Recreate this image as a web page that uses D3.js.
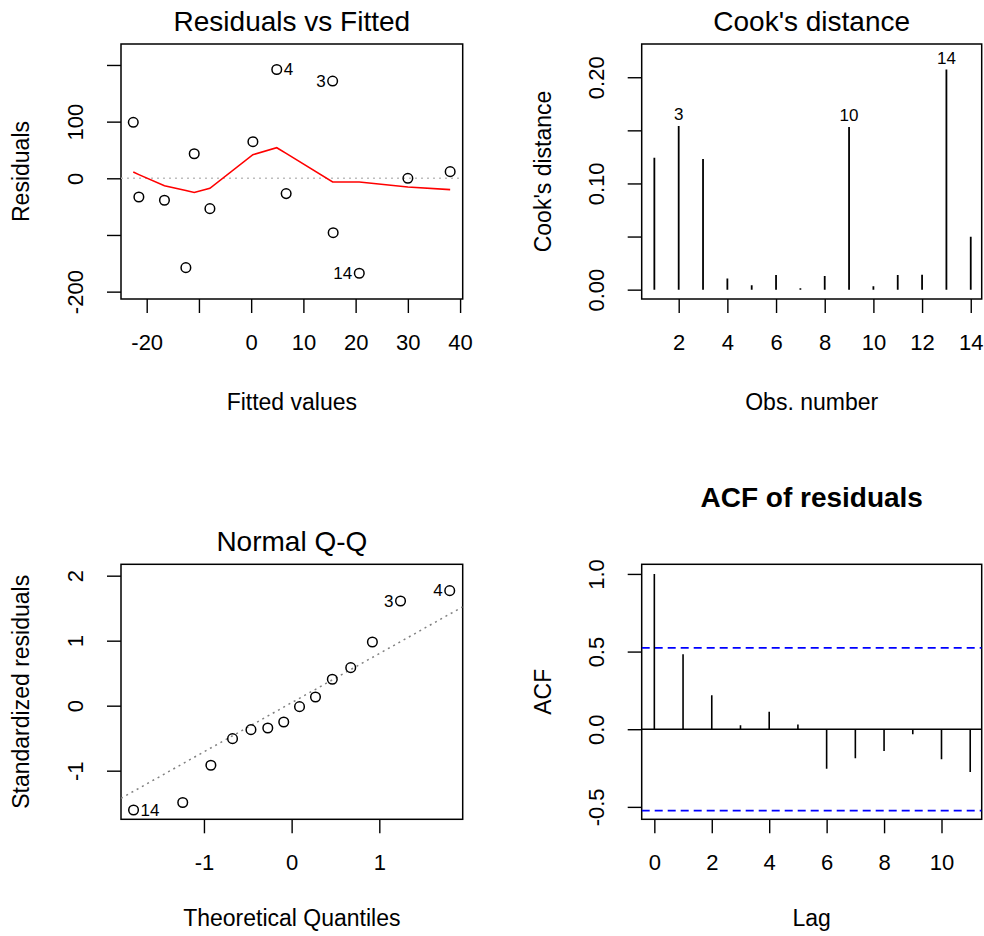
<!DOCTYPE html>
<html>
<head>
<meta charset="utf-8">
<script src="https://cdn.jsdelivr.net/npm/d3@7"></script>
<style>
  html, body { margin: 0; padding: 0; background: #fff; }
  svg { display: block; font-family: "Liberation Sans", Arial, sans-serif; }
</style>
</head>
<body>
<svg id="chart" width="984" height="936"></svg>
<script>
// ---------------- DATA ----------------
// Residuals vs Fitted (sorted by fitted value)
const fittedValues   = [-22.57, -21.5, -16.6, -12.5, -10.9, -7.9, 0.33, 4.9, 6.7, 15.6, 15.7, 20.7, 30.0, 38.1];
const residualValues = [98.8, -33, -38.8, -157.7, 43.4, -53.6, 64.6, 192, -27, 171.6, -96, -167.6, 0, 11.7];
const residualLabels = ["", "", "", "", "", "", "", "4", "", "3", "", "14", "", ""];
const lowessValues   = [11, 6.5, -13, -21.5, -25, -17.7, 41.7, 54, 44, -6.5, -6.5, -6.5, -15.3, -20];
const rvfXTicks  = [-20, -10, 0, 10, 20, 30, 40];
const rvfXLabels = ["-20", "", "0", "10", "20", "30", "40"];
const rvfYTicks  = [-200, -100, 0, 100, 200];
const rvfYLabels = ["-200", "", "0", "100", ""];

// Cook's distance
const obsNumbers    = [1, 2, 3, 4, 5, 6, 7, 8, 9, 10, 11, 12, 13, 14];
const cooksDistance = [0.1243, 0.1541, 0.1231, 0.0104, 0.0041, 0.0138, 0.0013, 0.0129, 0.1532, 0.0032, 0.0138, 0.0141, 0.2072, 0.0499];
const cooksLabels   = ["", "3", "", "", "", "", "", "", "10", "", "", "", "14", ""];
const cookXTicks  = [2, 4, 6, 8, 10, 12, 14];
const cookYTicks  = [0, 0.05, 0.10, 0.15, 0.20];
const cookYLabels = ["0.00", "", "0.10", "", "0.20"];

// Normal Q-Q
const theoreticalQuantiles  = [-1.803, -1.242, -0.921, -0.674, -0.464, -0.272, -0.090, 0.090, 0.272, 0.464, 0.674, 0.921, 1.242, 1.803];
const standardizedResiduals = [-1.605, -1.49, -0.917, -0.507, -0.369, -0.343, -0.251, -0.015, 0.134, 0.406, 0.585, 0.98, 1.61, 1.77];
const qqLabels = ["14", "", "", "", "", "", "", "", "", "", "", "", "3", "4"];
const qqLineIntercept = 0.046;
const qqLineSlope = 0.756;
const qqXTicks = [-1, 0, 1];
const qqYTicks = [-1, 0, 1, 2];

// ACF of residuals
const lags = [0, 1, 2, 3, 4, 5, 6, 7, 8, 9, 10, 11];
const acfValues = [1.0, 0.483, 0.219, 0.026, 0.113, 0.030, -0.254, -0.187, -0.140, -0.032, -0.193, -0.275];
const acfBound = 0.524;
const acfXTicks = [0, 2, 4, 6, 8, 10];
const acfYTicks = [-0.5, 0, 0.5, 1.0];
const acfYLabels = ["-0.5", "0.0", "0.5", "1.0"];

// ---------------- DRAWING ----------------
const svg = d3.select("#chart");
const TICK_FONT = 22, LAB_FONT = 23, TITLE_FONT = 28, PT_FONT = 17, TICK_LEN = 14;

function panel(o) {
  const g = svg.append("g");
  const x = d3.scaleLinear().domain(o.xDomain).range([o.left, o.right]);
  const y = d3.scaleLinear().domain(o.yDomain).range([o.bottom, o.top]);

  // x axis
  const xa = g.append("g").attr("transform", `translate(0,${o.bottom})`)
    .call(d3.axisBottom(x).tickValues(o.xTicks).tickSize(TICK_LEN)
      .tickFormat((d, i) => o.xLabels ? o.xLabels[i] : String(d)));
  xa.select(".domain").remove();
  xa.selectAll(".tick line").attr("stroke", "#000").attr("stroke-width", 1.4);
  xa.selectAll(".tick text").attr("y", 43).attr("dy", "0.35em")
    .attr("font-size", TICK_FONT).attr("fill", "#000").attr("font-family", null);

  // y axis
  const ya = g.append("g").attr("transform", `translate(${o.left},0)`)
    .call(d3.axisLeft(y).tickValues(o.yTicks).tickSize(TICK_LEN)
      .tickFormat((d, i) => o.yLabels ? o.yLabels[i] : String(d)));
  ya.select(".domain").remove();
  ya.selectAll(".tick line").attr("stroke", "#000").attr("stroke-width", 1.4);
  ya.selectAll(".tick text")
    .attr("x", null).attr("dy", null)
    .attr("transform", "translate(-45.5,0) rotate(-90)")
    .attr("text-anchor", "middle").attr("dominant-baseline", "central")
    .attr("font-size", TICK_FONT).attr("fill", "#000").attr("font-family", null);

  // box
  g.append("rect").attr("x", o.left).attr("y", o.top)
    .attr("width", o.right - o.left).attr("height", o.bottom - o.top)
    .attr("fill", "none").attr("stroke", "#000").attr("stroke-width", 1.5);

  // titles
  g.append("text").attr("x", (o.left + o.right) / 2).attr("y", o.titleY)
    .attr("text-anchor", "middle").attr("font-size", TITLE_FONT)
    .attr("font-weight", o.titleBold ? "bold" : "normal").text(o.title);
  g.append("text").attr("x", (o.left + o.right) / 2).attr("y", o.bottom + o.xLabOff)
    .attr("text-anchor", "middle").attr("dominant-baseline", "central")
    .attr("font-size", LAB_FONT).text(o.xLab);
  g.append("text")
    .attr("transform", `translate(${o.left - o.yLabOff},${(o.top + o.bottom) / 2}) rotate(-90)`)
    .attr("text-anchor", "middle").attr("dominant-baseline", "central")
    .attr("font-size", LAB_FONT).text(o.yLab);

  const clipId = "clip" + Math.random().toString(36).slice(2);
  svg.append("clipPath").attr("id", clipId).append("rect")
    .attr("x", o.left).attr("y", o.top).attr("width", o.right - o.left).attr("height", o.bottom - o.top);
  const plot = g.append("g").attr("clip-path", `url(#${clipId})`);
  return { g, plot, x, y };
}

// labels placed left/right of points as R does (left if x beyond the middle of the range)
function pointLabels(p, xs, ys, labels) {
  const mid = (d3.min(xs) + d3.max(xs)) / 2;
  labels.forEach((t, i) => {
    if (!t) return;
    const right = xs[i] <= mid;
    p.g.append("text")
      .attr("x", p.x(xs[i]) + (right ? 7 : -7)).attr("y", p.y(ys[i]))
      .attr("text-anchor", right ? "start" : "end").attr("dominant-baseline", "central")
      .attr("font-size", PT_FONT).text(t);
  });
}

// ---- Panel 1: Residuals vs Fitted
{
  const p = panel({
    left: 121, right: 462.7, top: 44, bottom: 299,
    xDomain: [-24.92, 40.5], yDomain: [-213, 237],
    xTicks: rvfXTicks, xLabels: rvfXLabels, yTicks: rvfYTicks, yLabels: rvfYLabels,
    title: "Residuals vs Fitted", titleY: 30.5, xLab: "Fitted values", yLab: "Residuals",
    xLabOff: 103, yLabOff: 100
  });
  p.plot.append("line").attr("x1", p.x(p.x.domain()[0])).attr("x2", p.x(p.x.domain()[1]))
    .attr("y1", p.y(0)).attr("y2", p.y(0))
    .attr("stroke", "#bebebe").attr("stroke-width", 1.5).attr("stroke-dasharray", "2,4");
  p.plot.append("path")
    .datum(fittedValues.map((f, i) => [f, lowessValues[i]]))
    .attr("d", d3.line().x(d => p.x(d[0])).y(d => p.y(d[1])))
    .attr("fill", "none").attr("stroke", "#ff0000").attr("stroke-width", 1.6);
  p.plot.selectAll("circle").data(fittedValues).join("circle")
    .attr("cx", d => p.x(d)).attr("cy", (d, i) => p.y(residualValues[i])).attr("r", 4.8)
    .attr("fill", "none").attr("stroke", "#000").attr("stroke-width", 1.5);
  pointLabels(p, fittedValues, residualValues, residualLabels);
}

// ---- Panel 2: Cook's distance
{
  const p = panel({
    left: 641.7, right: 981.7, top: 44, bottom: 299,
    xDomain: [0.48, 14.45], yDomain: [-0.0088, 0.2313],
    xTicks: cookXTicks, yTicks: cookYTicks, yLabels: cookYLabels,
    title: "Cook's distance", titleY: 30.5, xLab: "Obs. number", yLab: "Cook's distance",
    xLabOff: 103, yLabOff: 99
  });
  p.plot.selectAll("line.bar").data(obsNumbers).join("line").attr("class", "bar")
    .attr("x1", d => p.x(d)).attr("x2", d => p.x(d))
    .attr("y1", p.y(0)).attr("y2", (d, i) => p.y(cooksDistance[i]))
    .attr("stroke", "#000").attr("stroke-width", 1.8);
  cooksLabels.forEach((t, i) => {
    if (!t) return;
    p.g.append("text").attr("x", p.x(obsNumbers[i])).attr("y", p.y(cooksDistance[i]) - 6)
      .attr("text-anchor", "middle").attr("font-size", PT_FONT).text(t);
  });
}

// ---- Panel 3: Normal Q-Q
{
  const p = panel({
    left: 121, right: 462.7, top: 564.3, bottom: 819.3,
    xDomain: [-1.946, 1.951], yDomain: [-1.748, 2.175],
    xTicks: qqXTicks, yTicks: qqYTicks,
    title: "Normal Q-Q", titleY: 551, xLab: "Theoretical Quantiles", yLab: "Standardized residuals",
    xLabOff: 99, yLabOff: 100
  });
  const [x0, x1] = p.x.domain();
  p.plot.append("line")
    .attr("x1", p.x(x0)).attr("y1", p.y(qqLineIntercept + qqLineSlope * x0))
    .attr("x2", p.x(x1)).attr("y2", p.y(qqLineIntercept + qqLineSlope * x1))
    .attr("stroke", "#808080").attr("stroke-width", 1.5).attr("stroke-dasharray", "2,4");
  p.plot.selectAll("circle").data(theoreticalQuantiles).join("circle")
    .attr("cx", d => p.x(d)).attr("cy", (d, i) => p.y(standardizedResiduals[i])).attr("r", 4.8)
    .attr("fill", "none").attr("stroke", "#000").attr("stroke-width", 1.5);
  pointLabels(p, theoreticalQuantiles, standardizedResiduals, qqLabels);
}

// ---- Panel 4: ACF of residuals
{
  const p = panel({
    left: 641.7, right: 981.7, top: 564.3, bottom: 819.3,
    xDomain: [-0.44, 11.4], yDomain: [-0.58, 1.062],
    xTicks: acfXTicks, yTicks: acfYTicks, yLabels: acfYLabels,
    title: "ACF of residuals", titleBold: true, titleY: 507, xLab: "Lag", yLab: "ACF",
    xLabOff: 99, yLabOff: 99
  });
  const [x0, x1] = p.x.domain();
  p.plot.append("line").attr("x1", p.x(x0)).attr("x2", p.x(x1))
    .attr("y1", p.y(0)).attr("y2", p.y(0)).attr("stroke", "#000").attr("stroke-width", 1.4);
  [acfBound, -acfBound].forEach(b => {
    p.plot.append("line").attr("x1", p.x(x0)).attr("x2", p.x(x1))
      .attr("y1", p.y(b)).attr("y2", p.y(b))
      .attr("stroke", "#0000ff").attr("stroke-width", 1.6).attr("stroke-dasharray", "8,5");
  });
  p.plot.selectAll("line.bar").data(lags).join("line").attr("class", "bar")
    .attr("x1", d => p.x(d)).attr("x2", d => p.x(d))
    .attr("y1", p.y(0)).attr("y2", (d, i) => p.y(acfValues[i]))
    .attr("stroke", "#000").attr("stroke-width", 1.6);
}
</script>
</body>
</html>
